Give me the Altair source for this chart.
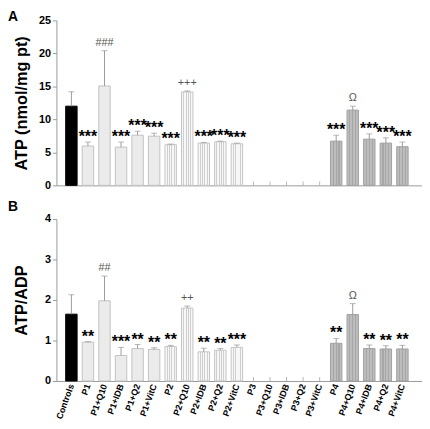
import altair as alt
import pandas as pd

categories = ["Controls", "P1", "P1+Q10", "P1+IDB", "P1+Q2", "P1+VitC",
              "P2", "P2+Q10", "P2+IDB", "P2+Q2", "P2+VitC",
              "P3", "P3+Q10", "P3+IDB", "P3+Q2", "P3+VitC",
              "P4", "P4+Q10", "P4+IDB", "P4+Q2", "P4+VitC"]
groups = ["C"] + ["P1"] * 5 + ["P2"] * 5 + ["P3"] * 5 + ["P4"] * 5

atp_mean = [12.0, 5.96, 15.06, 5.8, 7.6, 7.45, 6.16, 14.16, 6.4, 6.6, 6.3,
            0, 0, 0, 0, 0, 6.7, 11.4, 7.0, 6.4, 5.86]
atp_upper = [14.2, 6.56, 20.4, 6.56, 8.2, 7.9, 6.26, 14.3, 6.5, 6.7, 6.4,
             0, 0, 0, 0, 0, 7.6, 12.0, 7.8, 7.2, 6.56]
atp_marks = ["", "***", "###", "***", "***", "***", "***", "+++", "***", "***", "***",
             "", "", "", "", "", "***", "Ω", "***", "***", "***"]

ratio_mean = [1.65, 0.96, 1.98, 0.63, 0.80, 0.78, 0.85, 1.80, 0.72, 0.76, 0.83,
              0, 0, 0, 0, 0, 0.93, 1.64, 0.80, 0.79, 0.79]
ratio_upper = [2.13, 0.97, 2.59, 0.83, 0.90, 0.82, 0.88, 1.85, 0.81, 0.80, 0.89,
               0, 0, 0, 0, 0, 1.05, 1.91, 0.89, 0.87, 0.88]
ratio_marks = ["", "**", "##", "***", "**", "**", "**", "++", "**", "**", "***",
               "", "", "", "", "", "**", "Ω", "**", "**", "**"]

FONT = "Liberation Sans"
GRAY = "#9a9a9a"


def stripes(bg, line, n=4, w=0.08):
    stops = [alt.GradientStop(color=bg, offset=0)]
    for k in range(1, n + 1):
        c = k / (n + 1)
        stops += [alt.GradientStop(color=bg, offset=c - w / 2),
                  alt.GradientStop(color=line, offset=c - w / 2),
                  alt.GradientStop(color=line, offset=c + w / 2),
                  alt.GradientStop(color=bg, offset=c + w / 2)]
    stops.append(alt.GradientStop(color=bg, offset=1))
    return alt.LinearGradient(gradient="linear", stops=stops, x1=0, x2=1, y1=0, y2=0)


def panel(mean, upper, marks, ytitle, ymax, yvals, height, letter, letter_y, show_labels):
    df = pd.DataFrame({"cat": categories, "grp": groups, "mean": mean,
                       "upper": upper, "mark": marks})
    df["zero"] = 0
    df["kind"] = ["star" if m.startswith("*") else ("sym" if m else "") for m in marks]

    if show_labels:
        xaxis = alt.Axis(title=None, labelAngle=-70, labelFont=FONT, labelFontSize=9,
                         labelFontWeight="bold", labelColor="black", ticks=False,
                         labelPadding=3, domainColor=GRAY)
    else:
        xaxis = alt.Axis(title=None, labels=False, ticks=False, domainColor=GRAY)

    x = alt.X("cat:N", sort=categories,
              scale=alt.Scale(paddingInner=0.31, paddingOuter=0.7, align=0.4),
              axis=xaxis)
    yscale = alt.Scale(domain=[0, ymax], nice=False)
    yaxis = alt.Axis(title=ytitle, values=yvals, grid=False, tickSize=4, labelOverlap=False,
                     tickColor=GRAY, domainColor=GRAY, labelFont=FONT,
                     labelFontSize=11, labelFontWeight="bold", labelColor="black",
                     titleFont=FONT, titleFontSize=16.5, titleFontWeight="bold",
                     titleColor="black", titleX=-27)

    def Y(field):
        return alt.Y(field, scale=yscale, axis=yaxis)

    base = alt.Chart(df)
    ticks = base.mark_tick(orient="vertical", size=4, thickness=1, color=GRAY, yOffset=-2).encode(
        x=x, y=Y("zero:Q"))
    bar_c = base.transform_filter(alt.datum.grp == "C").mark_bar(
        fill="black", stroke="black", strokeWidth=1).encode(x=x, y=Y("mean:Q"))
    bar_p1 = base.transform_filter(alt.datum.grp == "P1").mark_bar(
        fill="#ebebeb", stroke="#c2c2c2", strokeWidth=1).encode(x=x, y=Y("mean:Q"))
    bar_p2 = base.transform_filter(alt.datum.grp == "P2").mark_bar(
        fill=stripes("#f7f7f7", "#cfcfcf"), stroke="#c4c4c4", strokeWidth=1).encode(x=x, y=Y("mean:Q"))
    bar_p4 = base.transform_filter(alt.datum.grp == "P4").mark_bar(
        fill=stripes("#bdbdbd", "#a6a6a6", n=3, w=0.1), stroke="#a0a0a0", strokeWidth=1).encode(
        x=x, y=Y("mean:Q"))

    err_base = base.transform_filter(alt.datum.mean > 0)
    err = err_base.mark_rule(color=GRAY, strokeWidth=1).encode(x=x, y=Y("mean:Q"), y2="upper:Q")
    cap = err_base.mark_tick(orient="horizontal", size=6, thickness=1, color=GRAY).encode(
        x=x, y=Y("upper:Q"))
    stars = base.transform_filter(alt.datum.kind == "star").mark_text(
        font=FONT, fontSize=16, fontWeight="bold", color="black", baseline="middle", dy=-5).encode(
        x=x, y=Y("upper:Q"), text="mark:N")
    syms = base.transform_filter(alt.datum.kind == "sym").mark_text(
        font=FONT, fontSize=11, color="#555555", baseline="middle", dy=-8).encode(
        x=x, y=Y("upper:Q"), text="mark:N")

    lab = alt.Chart(pd.DataFrame({"t": [letter]})).mark_text(
        font=FONT, fontSize=14, fontWeight="bold", color="black", align="left",
        baseline="top").encode(text="t:N", x=alt.value(-49), y=alt.value(letter_y))

    return alt.layer(ticks, bar_c, bar_p1, bar_p2, bar_p4, err, cap, stars, syms, lab).properties(
        width=370, height=height)


top = panel(atp_mean, atp_upper, atp_marks, "ATP (nmol/mg pt)", 25, [0, 5, 10, 15, 20, 25],
            167, "A", -10, False)
bottom = panel(ratio_mean, ratio_upper, ratio_marks, "ATP/ADP", 4, [0, 1, 2, 3, 4],
               164, "B", -19, True)

chart = alt.vconcat(top, bottom, spacing=10).properties(
    padding={"left": 0, "top": 0, "right": 0, "bottom": 0}
).configure_view(stroke=None)

chart.save("out.html", embed_options={"renderer": "svg", "actions": False})
